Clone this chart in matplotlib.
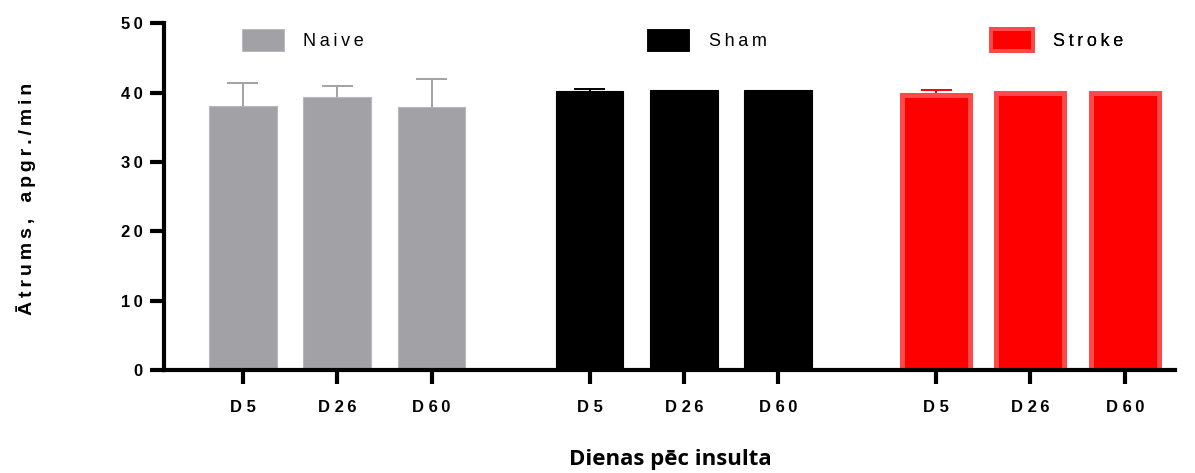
import numpy as np
import matplotlib
matplotlib.use("Agg")
import matplotlib.pyplot as plt
from matplotlib.patches import Patch

plt.rcParams['font.family'] = ['Liberation Sans', 'DejaVu Sans']

# dati
grupas = ['Naive', 'Sham', 'Stroke']
dienas = ['D5', 'D26', 'D60']
naive_vid = [38.0, 39.4, 37.9]
naive_err = [3.4, 1.6, 4.0]
sham_vid = [40.2, 40.3, 40.3]
sham_err = [0.3, 0.0, 0.0]
stroke_vid = [39.7, 40.0, 40.0]
stroke_err = [0.6, 0.0, 0.0]

TS = '\u2009'  # retinats

def izretinat(s):
    return TS.join(s)

fig = plt.figure(figsize=(11.95, 4.73), dpi=100)
ax = fig.add_axes([0.137, 0.218, 0.846, 0.733])

solis = 3.675
x = np.arange(3)
platums = 0.72
vacins = 0.165

krasas = ['#a2a2a6', '#000000', '#ff0000']
malas = ['#b8b8bc', '#000000', '#ff4848']
malu_platums = [0.8, 0.8, 3.6]
vertibas = [naive_vid, sham_vid, stroke_vid]
kludas = [naive_err, sham_err, stroke_err]
kludu_krasas = ['#a2a2a6', '#000000', '#ff0000']

poz_visas = []
for i in range(3):
    poz = x + i * solis
    poz_visas.extend(poz)
    v = np.array(vertibas[i])
    e = np.array(kludas[i])
    m = e > 0
    ax.vlines(poz[m], v[m], v[m] + e[m], color=kludu_krasas[i], linewidth=1.4, zorder=1)
    ax.hlines(v[m] + e[m], poz[m] - vacins, poz[m] + vacins, color=kludu_krasas[i],
              linewidth=1.4, zorder=1)
    ax.bar(poz, v, width=platums, color=krasas[i], edgecolor=malas[i],
           linewidth=malu_platums[i], zorder=2)

ax.set_xlim(-0.84, 9.88)
ax.set_ylim(0, 50)
ax.set_yticks([0, 10, 20, 30, 40, 50])
ax.set_yticklabels([izretinat(str(v)) for v in [0, 10, 20, 30, 40, 50]],
                   fontsize=12, fontweight='bold')
ax.set_xticks(poz_visas)
ax.set_xticklabels(['D ' + izretinat(d[1:]) for d in dienas] * 3,
                   fontsize=12, fontweight='bold')

for s in ['top', 'right']:
    ax.spines[s].set_visible(False)
for s in ['left', 'bottom']:
    ax.spines[s].set_linewidth(3)
ax.tick_params(axis='both', width=3, length=10, pad=5)
ax.tick_params(axis='x', pad=12)

# legendas
leg_x = [0.065, 0.466, 0.806]
for i in range(3):
    h = Patch(facecolor=krasas[i], edgecolor=malas[i], linewidth=malu_platums[i] * 0.8)
    lg = ax.legend([h], [izretinat(grupas[i])], loc='upper left', bbox_to_anchor=(leg_x[i], 1.02),
                   frameon=False, fontsize=13, handlelength=2.3, handleheight=1.5, handletextpad=1.1,
                   borderaxespad=0.3)
    ax.add_artist(lg)

fig.text(0.022, 0.58, izretinat('Ātrums,') + '   ' + izretinat('apgr./min'), rotation=90,
         ha='center', va='center', fontsize=14, fontweight='bold')
fig.text(0.561, 0.028, 'Dienas pēc insulta', ha='center', va='center', fontsize=16,
         fontweight='bold', family=['Open Sans', 'DejaVu Sans'])

fig.savefig('out.png', dpi=100)
